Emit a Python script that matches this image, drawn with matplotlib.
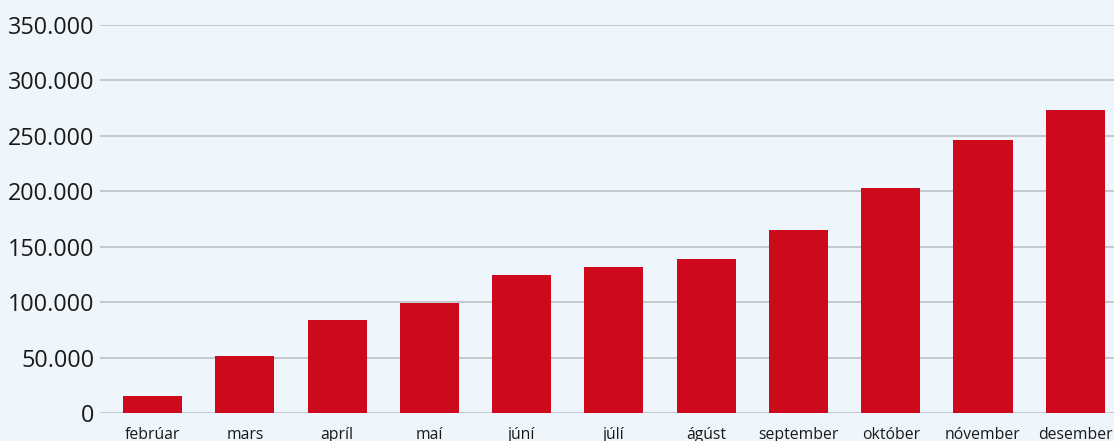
import matplotlib
matplotlib.use("Agg")
import matplotlib.pyplot as plt
from matplotlib.ticker import FuncFormatter

months = ["febrúar", "mars", "apríl", "maí", "júní", "júlí", "ágúst",
          "september", "október", "nóvember", "desember"]
values = [15500, 51000, 84000, 99500, 124500, 131500, 139000,
          165000, 203000, 246500, 273500]
yticks = [0, 50000, 100000, 150000, 200000, 250000, 300000, 350000]

bg = "#EEF6FC"
plt.rcParams['font.family'] = ['Open Sans', 'DejaVu Sans']

fig = plt.figure(figsize=(11.14, 4.41), dpi=100, facecolor=bg)
ax = fig.add_axes([100/1114, 1 - 413/441, 1014/1114, 388/441])
ax.set_facecolor(bg)

x = list(range(len(months)))
ax.bar(x, values, width=0.64, color="#CC0A1B", zorder=3)

ax.set_xlim(-0.57, 10.42)
ax.set_ylim(0, 350000)
ax.set_yticks(yticks)
ax.yaxis.set_major_formatter(FuncFormatter(lambda v, p: f"{int(v):,}".replace(",", ".")))
ax.grid(axis="y", color="#BFC5C8", linewidth=1.3, zorder=1)
ax.set_xticks(x)
ax.set_xticklabels(months, fontsize=11.3, color="#1a1a1a")
ax.tick_params(axis="y", labelsize=16.8, colors="#1a1a1a", length=0, pad=4)
ax.tick_params(axis="x", length=0, pad=10)
for s in ax.spines.values():
    s.set_visible(False)

fig.savefig("out.png", dpi=100, facecolor=bg)
